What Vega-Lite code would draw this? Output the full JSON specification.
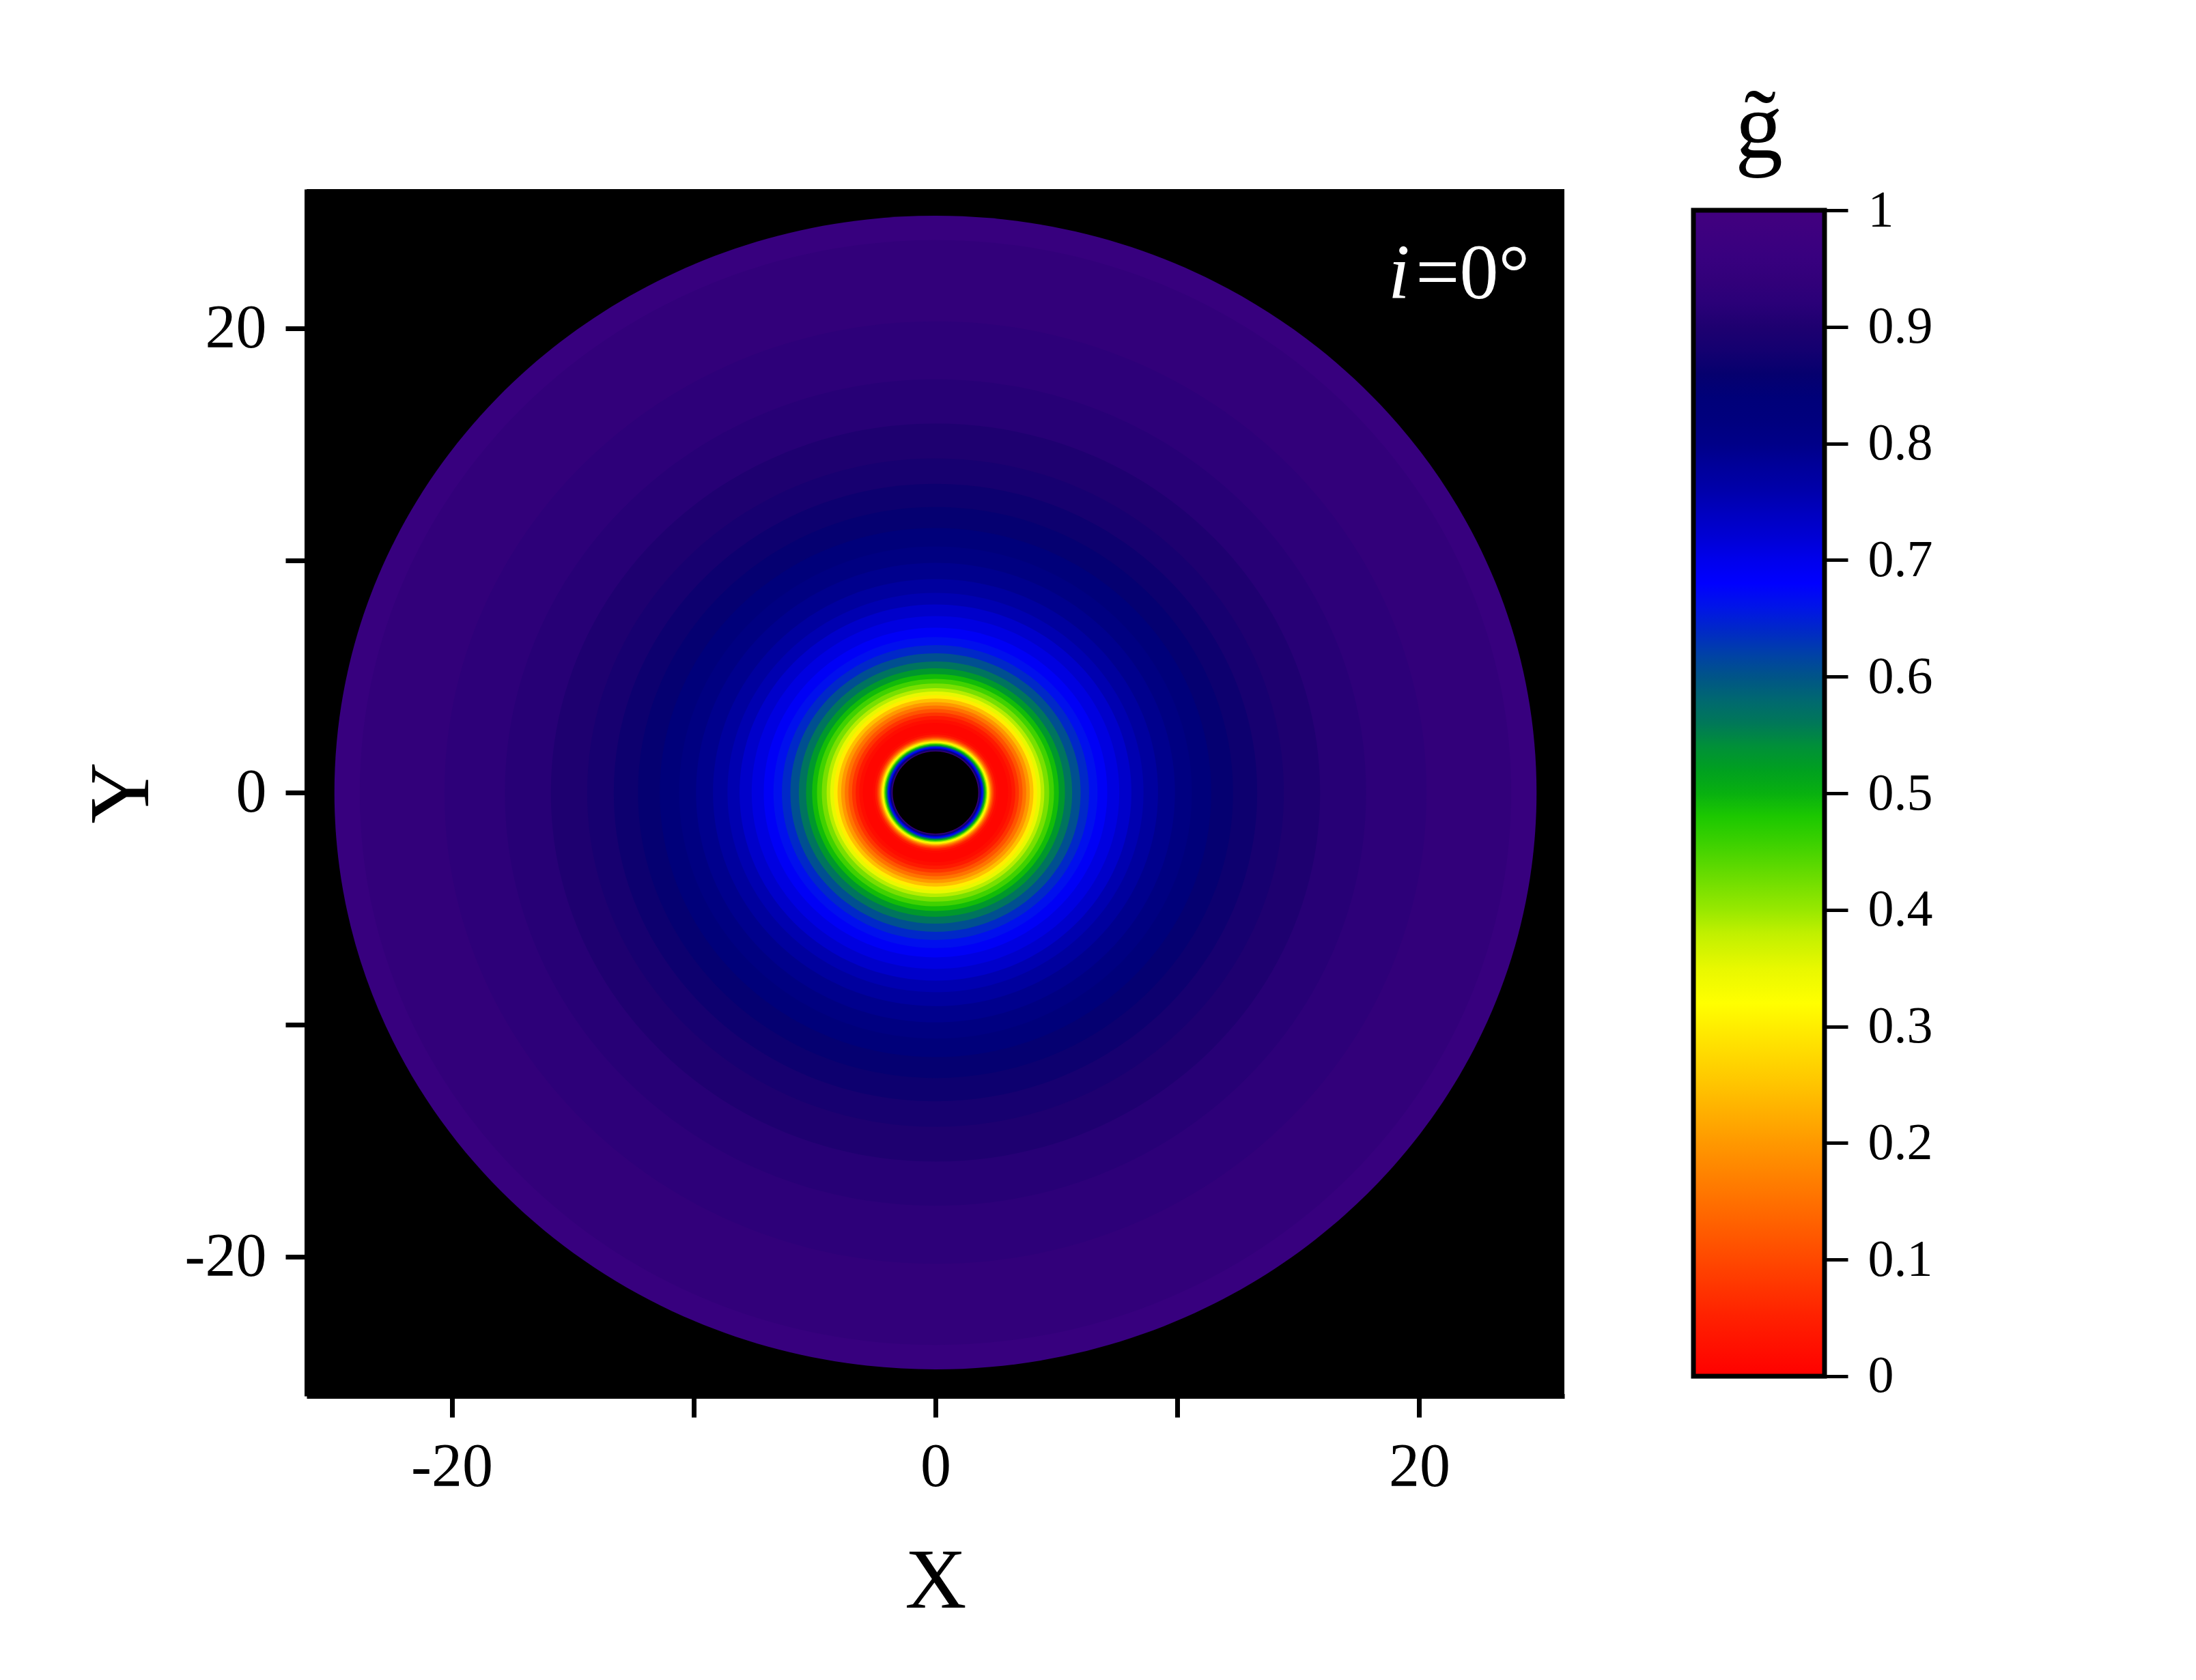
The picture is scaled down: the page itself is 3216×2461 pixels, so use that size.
{
  "$schema": "https://vega.github.io/schema/vega-lite/v6.json",
  "autosize": {"type": "none"},
  "width": 1842,
  "height": 1768,
  "padding": {"left": 449, "top": 277, "right": 925, "bottom": 416},
  "background": "white",
  "config": {
    "view": {"fill": "black", "stroke": null},
    "axis": {
      "labelFont": "Liberation Serif",
      "titleFont": "Liberation Serif",
      "labelColor": "black",
      "titleColor": "black",
      "tickColor": "black",
      "domainColor": "black",
      "grid": false,
      "labelFlush": false,
      "labelOverlap": false,
      "labelBound": false,
      "titleFontWeight": "normal"
    }
  },
  "resolve": {"scale": {"x": "independent", "y": "independent"}, "axis": {"x": "independent", "y": "independent"}},
  "layer": [
    {
      "layer": [
        {
          "data": {"values": [
            {"r": 24.85, "g": 0.955}, {"r": 23.8, "g": 0.94}, {"r": 20.3, "g": 0.928}, {"r": 17.8, "g": 0.915},
            {"r": 15.9, "g": 0.90}, {"r": 14.4, "g": 0.885}, {"r": 13.3, "g": 0.87}, {"r": 12.3, "g": 0.855},
            {"r": 11.4, "g": 0.835}, {"r": 10.6, "g": 0.815}, {"r": 9.9, "g": 0.795}, {"r": 9.2, "g": 0.775},
            {"r": 8.6, "g": 0.755}, {"r": 8.1, "g": 0.73}, {"r": 7.6, "g": 0.71}, {"r": 7.1, "g": 0.69},
            {"r": 6.7, "g": 0.665}, {"r": 6.35, "g": 0.64}, {"r": 6.0, "g": 0.605}, {"r": 5.65, "g": 0.565},
            {"r": 5.35, "g": 0.53}, {"r": 5.1, "g": 0.49}, {"r": 4.9, "g": 0.455}, {"r": 4.7, "g": 0.42},
            {"r": 4.5, "g": 0.385}, {"r": 4.35, "g": 0.35}, {"r": 4.2, "g": 0.30}, {"r": 4.05, "g": 0.245},
            {"r": 3.9, "g": 0.20}, {"r": 3.75, "g": 0.155}, {"r": 3.6, "g": 0.115}, {"r": 3.45, "g": 0.075},
            {"r": 3.3, "g": 0.04}, {"r": 3.15, "g": 0.02}, {"r": 3.0, "g": 0.01}, {"r": 2.6, "g": 0.015},
            {"r": 2.5, "g": 0.04}, {"r": 2.42, "g": 0.08}, {"r": 2.36, "g": 0.13}, {"r": 2.3, "g": 0.19},
            {"r": 2.25, "g": 0.26}, {"r": 2.2, "g": 0.32}, {"r": 2.16, "g": 0.37}, {"r": 2.12, "g": 0.43},
            {"r": 2.08, "g": 0.49}, {"r": 2.04, "g": 0.55}, {"r": 2.0, "g": 0.61}, {"r": 1.96, "g": 0.67},
            {"r": 1.92, "g": 0.72}, {"r": 1.88, "g": 0.80}, {"r": 1.84, "g": 0.90}, {"r": 1.80, "g": 0.96}
          ]},
          "mark": {
            "type": "point",
            "shape": "M1,0 C1,0.5301 0.5523,0.9598 0,0.9598 C-0.5523,0.9598 -1,0.5301 -1,0 C-1,-0.5301 -0.5523,-0.9598 0,-0.9598 C0.5523,-0.9598 1,-0.5301 1,0 Z",
            "filled": true,
            "opacity": 1,
            "strokeWidth": 0
          },
          "encoding": {
            "x": {
              "datum": 0, "type": "quantitative",
              "scale": {"domain": [-26, 26], "nice": false, "zero": false},
              "axis": {
                "orient": "bottom",
                "values": [-20, -10, 0, 10, 20],
                "labelExpr": "datum.value % 20 == 0 ? toString(datum.value) : ''",
                "tickSize": 31, "tickWidth": 7, "domainWidth": 7,
                "labelFontSize": 90, "labelPadding": 29,
                "title": "X", "titleFontSize": 125, "titlePadding": 61,
                "encode": {"ticks": {"update": {"y2": {"signal": "datum.value % 20 == 0 ? 31 : 13"}}}}
              }
            },
            "y": {
              "datum": 0, "type": "quantitative",
              "scale": {"domain": [-26, 26], "nice": false, "zero": false},
              "axis": {
                "orient": "left",
                "values": [-20, -10, 0, 10, 20],
                "labelExpr": "datum.value % 20 == 0 ? toString(datum.value) : ''",
                "tickSize": 31, "tickWidth": 7, "domainWidth": 7,
                "labelFontSize": 90, "labelPadding": 28,
                "title": "Y", "titleFontSize": 125, "titlePadding": 28,
                "encode": {"ticks": {"update": {"x2": {"signal": "datum.value % 20 == 0 ? -31 : -13"}}}}
              }
            },
            "size": {
              "field": "r", "type": "quantitative",
              "scale": {"type": "pow", "exponent": 2, "domain": [0, 26], "range": [0, 3392964]},
              "legend": null
            },
            "color": {
              "field": "g", "type": "quantitative",
              "scale": {
                "domain": [0,0.05,0.1,0.15,0.2,0.25,0.3,0.32,0.35,0.38,0.4,0.42,0.44,0.46,0.48,0.5,0.52,0.54,0.56,0.58,0.6,0.62,0.64,0.66,0.68,0.7,0.72,0.74,0.76,0.78,0.8,0.82,0.84,0.86,0.88,0.9,0.92,0.94,0.96,1],
                "range": ["#FF0000","#FF2000","#FF4800","#FF7000","#FF9800","#FFC400","#FFEE00","#FFFF00","#E8F800","#C0F000","#98E800","#78E000","#58D800","#38D000","#1CC800","#08B010","#00A020","#009038","#007858","#006870","#005488","#0040A8","#0028C8","#0014E8","#0000FF","#0000EC","#0000D4","#0000C0","#0000AA","#00009A","#000088","#00007E","#000078","#06006E","#140070","#1E0070","#2A0078","#32007A","#38007F","#42007F"],
                "interpolate": "rgb"
              },
              "legend": null
            }
          }
        },
        {
          "data": {"values": [{"r": 1.77}]},
          "mark": {
            "type": "point",
            "shape": "M1,0 C1,0.5301 0.5523,0.9598 0,0.9598 C-0.5523,0.9598 -1,0.5301 -1,0 C-1,-0.5301 -0.5523,-0.9598 0,-0.9598 C0.5523,-0.9598 1,-0.5301 1,0 Z",
            "filled": true,
            "opacity": 1,
            "strokeWidth": 0,
            "color": "black"
          },
          "encoding": {
            "x": {"datum": 0, "type": "quantitative"},
            "y": {"datum": 0, "type": "quantitative"},
            "size": {"field": "r", "type": "quantitative"}
          }
        },
        {
          "data": {"values": [{"label": "i"}]},
          "mark": {"type": "text", "font": "Liberation Serif", "fontStyle": "italic", "fontSize": 114, "color": "white", "align": "left", "baseline": "alphabetic"},
          "encoding": {
            "x": {"datum": 18.72, "type": "quantitative"},
            "y": {"datum": 21.29, "type": "quantitative"},
            "text": {"field": "label"}
          }
        },
        {
          "data": {"values": [{"label": "=0°"}]},
          "mark": {"type": "text", "font": "Liberation Serif", "fontSize": 114, "color": "white", "align": "left", "baseline": "alphabetic"},
          "encoding": {
            "x": {"datum": 19.85, "type": "quantitative"},
            "y": {"datum": 21.29, "type": "quantitative"},
            "text": {"field": "label"}
          }
        }
      ]
    },
    {
      "layer": [
        {
          "data": {"values": [{"lo": 0, "hi": 1}]},
          "mark": {
            "type": "rect",
            "fill": {
              "gradient": "linear", "x1": 0, "y1": 1, "x2": 0, "y2": 0,
              "stops": [
                {"offset": 0, "color": "#FF0000"}, {"offset": 0.05, "color": "#FF2000"}, {"offset": 0.1, "color": "#FF4800"},
                {"offset": 0.15, "color": "#FF7000"}, {"offset": 0.2, "color": "#FF9800"}, {"offset": 0.25, "color": "#FFC400"},
                {"offset": 0.3, "color": "#FFEE00"}, {"offset": 0.32, "color": "#FFFF00"}, {"offset": 0.35, "color": "#E8F800"},
                {"offset": 0.38, "color": "#C0F000"}, {"offset": 0.4, "color": "#98E800"}, {"offset": 0.42, "color": "#78E000"},
                {"offset": 0.44, "color": "#58D800"}, {"offset": 0.46, "color": "#38D000"}, {"offset": 0.48, "color": "#1CC800"},
                {"offset": 0.5, "color": "#08B010"}, {"offset": 0.52, "color": "#00A020"}, {"offset": 0.54, "color": "#009038"},
                {"offset": 0.56, "color": "#007858"}, {"offset": 0.58, "color": "#006870"}, {"offset": 0.6, "color": "#005488"},
                {"offset": 0.62, "color": "#0040A8"}, {"offset": 0.64, "color": "#0028C8"}, {"offset": 0.66, "color": "#0014E8"},
                {"offset": 0.68, "color": "#0000FF"}, {"offset": 0.7, "color": "#0000EC"}, {"offset": 0.72, "color": "#0000D4"},
                {"offset": 0.74, "color": "#0000C0"}, {"offset": 0.76, "color": "#0000AA"}, {"offset": 0.78, "color": "#00009A"},
                {"offset": 0.8, "color": "#000088"}, {"offset": 0.82, "color": "#00007E"}, {"offset": 0.84, "color": "#000078"},
                {"offset": 0.86, "color": "#06006E"}, {"offset": 0.88, "color": "#140070"}, {"offset": 0.9, "color": "#1E0070"},
                {"offset": 0.92, "color": "#2A0078"}, {"offset": 0.94, "color": "#32007A"}, {"offset": 0.96, "color": "#38007F"},
                {"offset": 1, "color": "#42007F"}
              ]
            },
            "stroke": "black",
            "strokeWidth": 7
          },
          "encoding": {
            "x": {"datum": 0, "type": "quantitative", "scale": {"domain": [-10.578125, -0.984375], "nice": false, "zero": false}, "axis": null},
            "x2": {"datum": 1},
            "y": {
              "field": "lo", "type": "quantitative",
              "scale": {"domain": [-0.016979, 1.01815], "nice": false, "zero": false},
              "axis": {
                "orient": "right", "offset": 381,
                "values": [0, 0.1, 0.2, 0.3, 0.4, 0.5, 0.6, 0.7, 0.8, 0.9, 1],
                "labelExpr": "toString(datum.value)",
                "domain": false,
                "tickSize": 34, "tickWidth": 5,
                "labelFontSize": 76, "labelPadding": 29,
                "title": null
              }
            },
            "y2": {"field": "hi"}
          }
        },
        {
          "data": {"values": [{"label": "g̃"}]},
          "mark": {"type": "text", "font": "Liberation Serif", "fontSize": 140, "color": "black", "align": "center", "baseline": "alphabetic"},
          "encoding": {
            "x": {"datum": 0.5, "type": "quantitative"},
            "y": {"datum": 1.0451, "type": "quantitative"},
            "text": {"field": "label"}
          }
        }
      ]
    }
  ]
}
